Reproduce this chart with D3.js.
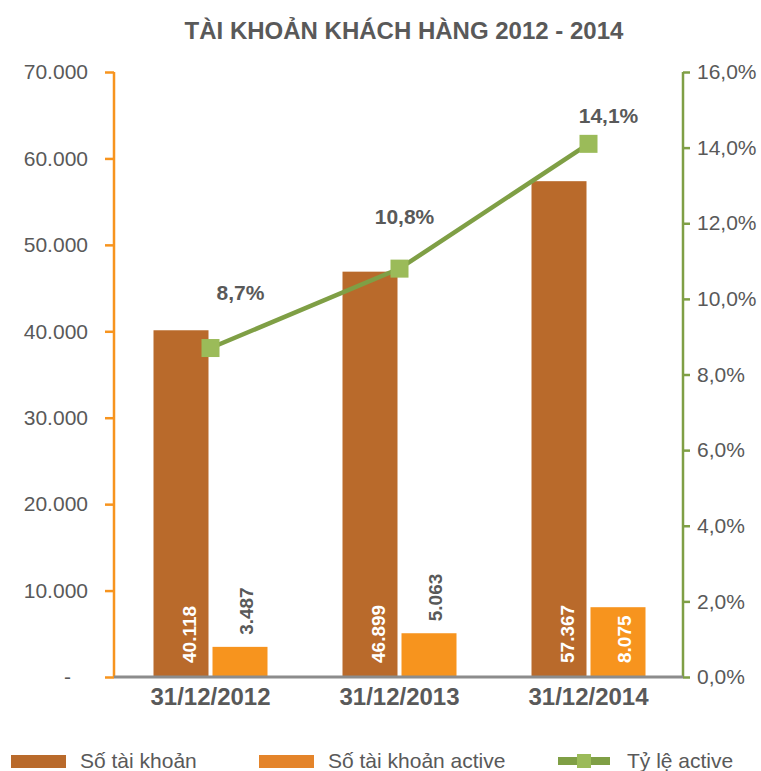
<!DOCTYPE html>
<html>
<head>
<meta charset="utf-8">
<script src="https://cdn.jsdelivr.net/npm/d3@7"></script>
<style>
    body { margin: 0; background: #fff; }
    svg text { font-family: "Liberation Sans", Arial, sans-serif; }
</style>
</head>
<body>
<script>
(function () {
    var categories = ["31/12/2012", "31/12/2013", "31/12/2014"];
    var soTaiKhoan = [40118, 46899, 57367];
    var soTaiKhoanActive = [3487, 5063, 8075];
    var tyLeActive = [8.7, 10.8, 14.1];
    var leftTicks = [0, 10000, 20000, 30000, 40000, 50000, 60000, 70000];
    var rightTicks = [0, 2, 4, 6, 8, 10, 12, 14, 16];
    var seriesNames = ["Số tài khoản", "Số tài khoản active", "Tỷ lệ active"];

    // offsets of the percentage labels from their points
    var pctLabelOffsets = [[30, -48], [5, -45], [20, -21]];

    var width = 761,
        height = 771,
        plotLeft = 114,
        plotRight = 683,
        plotTop = 72,
        plotBottom = 677;

    var brown = "#B96A2B",
        orange = "#F7941E",
        legendOrange = "#E4842A",
        green = "#7F9F45",
        lightGreen = "#9BBB59",
        textColor = "#595959";

    var svg = d3.select("body").append("svg")
        .attr("width", width)
        .attr("height", height);

    var x = d3.scaleBand()
        .domain(categories)
        .range([plotLeft + 2, plotRight]);

    var y = d3.scaleLinear()
        .domain([0, 70000])
        .range([plotBottom, plotTop]);

    var y2 = d3.scaleLinear()
        .domain([0, 16])
        .range([plotBottom, plotTop]);

    function cx(i) { return x(categories[i]) + x.bandwidth() / 2; }

    var fmtNum = function (v) {
        return d3.format(",")(v).replace(/,/g, ".");
    };
    var fmtPct = function (v) {
        return d3.format(".1f")(v).replace(".", ",") + "%";
    };

    // title
    svg.append("text")
        .attr("x", 404)
        .attr("y", 39)
        .attr("text-anchor", "middle")
        .style("font-size", "24px")
        .style("font-weight", "bold")
        .style("fill", textColor)
        .text("TÀI KHOẢN KHÁCH HÀNG 2012 - 2014");

    var barW = 55;

    // bars
    svg.selectAll(".bar1")
        .data(soTaiKhoan)
        .enter()
        .append("rect")
        .attr("class", "bar1")
        .attr("x", function (d, i) { return cx(i) - barW - 2; })
        .attr("y", function (d) { return y(d); })
        .attr("width", barW)
        .attr("height", function (d) { return plotBottom - y(d); })
        .style("fill", brown);

    svg.selectAll(".bar2")
        .data(soTaiKhoanActive)
        .enter()
        .append("rect")
        .attr("class", "bar2")
        .attr("x", function (d, i) { return cx(i) + 2; })
        .attr("y", function (d) { return y(d); })
        .attr("width", barW)
        .attr("height", function (d) { return plotBottom - y(d); })
        .style("fill", orange);

    // bar labels, rotated
    svg.selectAll(".lab1")
        .data(soTaiKhoan)
        .enter()
        .append("text")
        .attr("class", "lab1")
        .attr("transform", function (d, i) {
            var lx = cx(i) - 2 - barW / 2 + 15;
            return "translate(" + lx + "," + (plotBottom - 14) + ") rotate(-90)";
        })
        .style("font-size", "19px")
        .style("font-weight", "bold")
        .style("fill", "#fff")
        .text(fmtNum);

    svg.selectAll(".lab2")
        .data(soTaiKhoanActive)
        .enter()
        .append("text")
        .attr("class", "lab2")
        .attr("transform", function (d, i) {
            var lx = cx(i) + 2 + barW / 2 + 13;
            var inside = plotBottom - y(d) > 65;
            var ly = inside ? plotBottom - 14 : y(d) - 12;
            return "translate(" + lx + "," + ly + ") rotate(-90)";
        })
        .style("font-size", "19px")
        .style("font-weight", "bold")
        .style("fill", function (d) { return plotBottom - y(d) > 65 ? "#fff" : textColor; })
        .text(fmtNum);

    // left axis
    var yAxis = d3.axisLeft(y)
        .tickValues(leftTicks)
        .tickSize(9)
        .tickPadding(17)
        .tickFormat(function (d) { return d === 0 ? "-" : fmtNum(d); });

    var gl = svg.append("g")
        .attr("transform", "translate(" + plotLeft + ",0)")
        .call(yAxis);
    gl.select(".domain").attr("d", "M0," + plotTop + "V" + plotBottom)
        .style("stroke", orange).style("stroke-width", 2.5);
    gl.selectAll(".tick line").style("stroke", orange).style("stroke-width", 2.5);
    gl.selectAll(".tick text")
        .style("font-size", "21px")
        .style("fill", textColor)
        .attr("dx", function (d) { return d === 0 ? -17 : 0; });

    // right axis
    var y2Axis = d3.axisRight(y2)
        .tickValues(rightTicks)
        .tickSize(7)
        .tickPadding(7)
        .tickFormat(fmtPct);

    var gr = svg.append("g")
        .attr("transform", "translate(" + plotRight + ",0)")
        .call(y2Axis);
    gr.select(".domain").attr("d", "M0," + plotTop + "V" + plotBottom)
        .style("stroke", green).style("stroke-width", 2.5);
    gr.selectAll(".tick line").style("stroke", green).style("stroke-width", 2.5);
    gr.selectAll(".tick text").style("font-size", "21px").style("fill", textColor);

    // x axis
    var xAxis = d3.axisBottom(x).tickSize(0).tickPadding(11);
    var gx = svg.append("g")
        .attr("transform", "translate(0," + plotBottom + ")")
        .call(xAxis);
    gx.select(".domain").attr("d", "M" + plotLeft + ",0H" + plotRight)
        .style("stroke", "#8c8c8c").style("stroke-width", 3);
    gx.selectAll(".tick text")
        .style("font-size", "24px")
        .style("font-weight", "bold")
        .style("fill", textColor);

    // line
    var line = d3.line()
        .x(function (d, i) { return cx(i); })
        .y(function (d) { return y2(d); });

    svg.append("path")
        .datum(tyLeActive)
        .attr("d", line)
        .style("fill", "none")
        .style("stroke", green)
        .style("stroke-width", 4.5);

    svg.selectAll(".marker")
        .data(tyLeActive)
        .enter()
        .append("rect")
        .attr("class", "marker")
        .attr("x", function (d, i) { return cx(i) - 9; })
        .attr("y", function (d) { return y2(d) - 9; })
        .attr("width", 18)
        .attr("height", 18)
        .style("fill", lightGreen);

    svg.selectAll(".pct")
        .data(tyLeActive)
        .enter()
        .append("text")
        .attr("class", "pct")
        .attr("x", function (d, i) { return cx(i) + pctLabelOffsets[i][0]; })
        .attr("y", function (d, i) { return y2(d) + pctLabelOffsets[i][1]; })
        .attr("text-anchor", "middle")
        .style("font-size", "21px")
        .style("font-weight", "bold")
        .style("fill", textColor)
        .text(fmtPct);

    // legend
    var legend = svg.append("g").attr("transform", "translate(0,761)");
    var legendX = [11, 259, 558];

    legend.append("rect").attr("x", legendX[0]).attr("y", -6).attr("width", 55).attr("height", 13).style("fill", brown);
    legend.append("rect").attr("x", legendX[1]).attr("y", -6).attr("width", 55).attr("height", 13).style("fill", legendOrange);
    legend.append("line")
        .attr("x1", legendX[2]).attr("x2", legendX[2] + 52)
        .attr("y1", 0).attr("y2", 0)
        .style("stroke", green).style("stroke-width", 8);
    legend.append("rect")
        .attr("x", legendX[2] + 19).attr("y", -7).attr("width", 14).attr("height", 14)
        .style("fill", lightGreen);

    legend.selectAll(".legText")
        .data(seriesNames)
        .enter()
        .append("text")
        .attr("class", "legText")
        .attr("x", function (d, i) { return legendX[i] + (i === 2 ? 69 : 69); })
        .attr("y", 7)
        .style("font-size", "21px")
        .style("fill", textColor)
        .text(function (d) { return d; });
})();
</script>
</body>
</html>
